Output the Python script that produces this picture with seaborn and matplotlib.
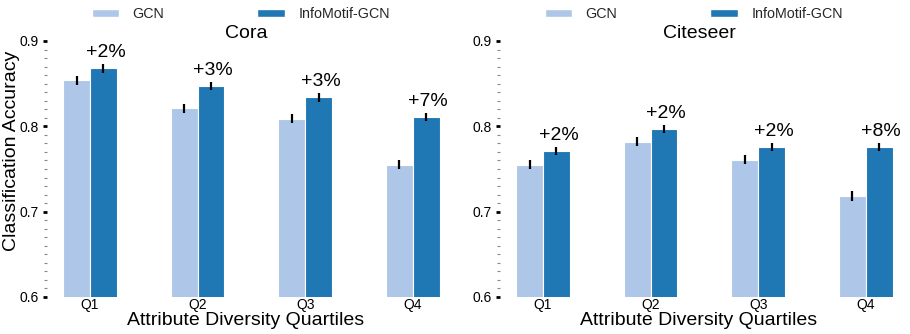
import numpy as np
import pandas as pd
import matplotlib
matplotlib.use("Agg")
import matplotlib.pyplot as plt
from matplotlib.ticker import MultipleLocator, FormatStrFormatter
from matplotlib.patches import Patch
import seaborn as sns

quartiles = ["Q1", "Q2", "Q3", "Q4"]
models = ["GCN", "InfoMotif-GCN"]

cora_gcn = [0.854, 0.821, 0.809, 0.755]
cora_info = [0.868, 0.847, 0.834, 0.811]
cora_gcn_err = [0.005, 0.005, 0.005, 0.005]
cora_info_err = [0.005, 0.005, 0.005, 0.005]
cora_gain = ["+2%", "+3%", "+3%", "+7%"]

cite_gcn = [0.755, 0.782, 0.761, 0.718]
cite_info = [0.771, 0.797, 0.776, 0.776]
cite_gcn_err = [0.005, 0.005, 0.005, 0.006]
cite_info_err = [0.005, 0.005, 0.005, 0.005]
cite_gain = ["+2%", "+2%", "+2%", "+8%"]

colors = ["#aec7e8", "#1f77b4"]

sns.set_theme(style="white")
plt.rcParams["font.family"] = ["Liberation Sans", "DejaVu Sans"]

fig = plt.figure(figsize=(9.1, 3.34), dpi=100)
W, H = 910, 334


def px_axes(x0, x1, ytop, ybot):
    return fig.add_axes([x0 / W, (H - ybot) / H, (x1 - x0) / W, (ybot - ytop) / H])


panels = [
    ("Cora", cora_gcn, cora_info, cora_gcn_err, cora_info_err, cora_gain, px_axes(47, 445, 41, 297)),
    ("Citeseer", cite_gcn, cite_info, cite_gcn_err, cite_info_err, cite_gain, px_axes(500, 898, 41, 297)),
]

for i, (title, gcn, info, gerr, ierr, gain, ax) in enumerate(panels):
    df = pd.DataFrame({
        "quartile": quartiles * 2,
        "model": [models[0]] * 4 + [models[1]] * 4,
        "acc": gcn + info,
    })
    sns.barplot(data=df, x="quartile", y="acc", hue="model", palette=colors,
                saturation=1, width=0.5, errorbar=None, edgecolor="white",
                linewidth=0.8, ax=ax, legend=False)
    bars = [p for p in ax.patches if p.get_height() > 0]
    gbars, ibars = bars[:4], bars[4:]
    for blist, vals, errs in ((gbars, gcn, gerr), (ibars, info, ierr)):
        xs = [b.get_x() + b.get_width() / 2 for b in blist]
        ax.errorbar(xs, vals, yerr=errs, fmt="none", ecolor="black",
                    elinewidth=1.6, capsize=0, zorder=5)
    for b, v, e, t in zip(ibars, info, ierr, gain):
        ax.text(b.get_x() + b.get_width() / 2 + 0.02, v + e + 0.003, t,
                ha="center", va="bottom", fontsize=14, color="black")

    ax.set_ylim(0.6, 0.9)
    ax.set_xlim(-0.40, 3.30)
    ax.yaxis.set_major_locator(MultipleLocator(0.1))
    ax.yaxis.set_minor_locator(MultipleLocator(0.01))
    ax.yaxis.set_major_formatter(FormatStrFormatter("%.1f"))
    ax.tick_params(axis="y", which="major", left=True, length=3, width=2,
                   color="black", labelsize=10, pad=3, labelcolor="black")
    ax.tick_params(axis="y", which="minor", left=True, length=2, width=0.8,
                   color="#888888")
    ax.tick_params(axis="x", which="both", bottom=False, length=0,
                   labelsize=10, pad=1, labelcolor="black")
    for s in ax.spines.values():
        s.set_visible(False)
    ax.set_title(title, fontsize=14, pad=2, color="black")
    ax.set_xlabel("Attribute Diversity Quartiles", fontsize=14, labelpad=0, color="black")
    if i == 0:
        ax.set_ylabel("Classification Accuracy", fontsize=14, color="black")
        ax.yaxis.set_label_coords(-0.068, 0.57)
    else:
        ax.set_ylabel("")

    handles = [Patch(facecolor=c, edgecolor="white", label=m) for c, m in zip(colors, models)]
    ax.legend(handles=handles, loc="lower center", bbox_to_anchor=(0.487, 1.055),
              ncol=2, frameon=False, fontsize=10.3, columnspacing=6.5,
              handlelength=1.9, handleheight=0.5, handletextpad=0.95,
              borderaxespad=0)

fig.savefig("out.png", dpi=100, facecolor="white")
